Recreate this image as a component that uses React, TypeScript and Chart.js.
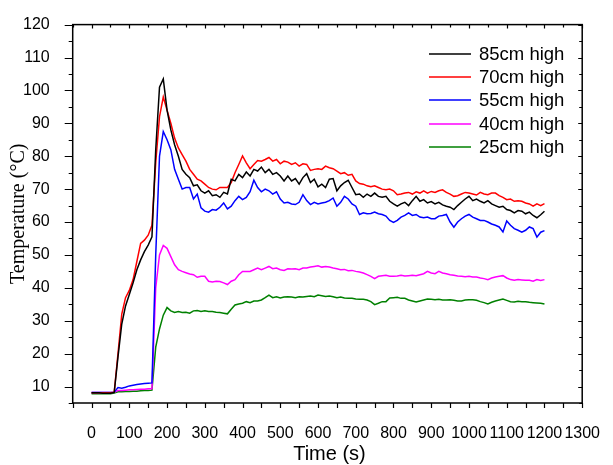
import React, { useEffect, useRef } from "react";
import { Chart, registerables } from "chart.js";

Chart.register(...registerables);

const TIME_STEP = 10;
const TIMES = Array.from({ length: 121 }, (_, i) => i * TIME_STEP);

const SERIES_LABELS = ["85cm high", "70cm high", "55cm high", "40cm high", "25cm high"];
const SERIES_COLORS = ["#000000", "#ff0000", "#0000ff", "#ff00ff", "#008000"];

const H85 = [
  8.1, 8.1, 8.1, 8.0, 8.0, 8.0,
  8.2, 19, 29, 34.5, 38, 41.5, 45.5, 48.5, 51, 53, 55.5,
  82, 101, 103.5, 94, 88, 83.5, 80, 76, 74.5, 73.5,
  71, 71.3, 69.5, 68.8, 69.5, 68, 68.3, 67.5, 69, 68.5,
  73, 72.5, 74.5, 73.5, 75.2, 74, 76, 75.5, 76.7, 75,
  76, 74.5, 75, 74, 72.5, 74, 72.5, 73.2, 71.5, 73.5,
  74.7, 72, 73, 70.7, 71.5, 70.5, 73, 73.2, 69.5, 71,
  72, 72.7, 70.5, 68.3, 68.5, 67.5, 68.5, 67.8, 68.8, 67.8,
  67.5, 67.8, 66.3, 65.5, 64.8, 65.5, 66, 65, 66.5, 67.8,
  66.3, 66.8, 65.8, 66.2, 65.5, 66, 65.2, 64.8, 64.5, 63.8,
  65, 66, 67, 67.8, 66.5, 67, 66.3, 65.8, 66.5, 65.5,
  65, 64.5, 64.8, 63.8, 63.5, 62.8, 63.5, 63.3, 62.5, 63,
  62, 61.3, 62.2, 63.3,
];

const H70 = [
  8.1, 8.1, 8.1, 8.1, 8.1, 8.1,
  8.3, 20, 32, 37, 39.2, 42.5, 48, 53.5, 54.5, 56, 59,
  78, 92, 98, 94, 90, 85.5, 82.5, 80.5, 78.5, 76,
  74.5, 73, 72.5, 71.5, 70.5, 70, 69.8, 70.5, 70.5, 70.5,
  72, 75, 77.5, 80.1, 78, 76.2, 77.5, 78.7, 78.5, 79,
  79.6, 78.5, 79, 77.7, 78.5, 78.2, 77.5, 78, 77, 77.7,
  77.5, 75.7, 76, 76.2, 76, 77, 76.5, 76.2, 75.5, 74.7,
  75, 74.2, 74.5, 72.5, 71.7, 71.5, 71, 70.7, 71, 70.5,
  70, 69.8, 70, 69.5, 68.3, 68.5, 68.8, 69, 68.5, 69.2,
  68.8, 69.5, 68.8, 69.3, 69, 69.5, 69.8, 69, 68.5, 67.8,
  68, 68.5, 69, 68.8, 68.5, 68.2, 69, 68.5, 68.3, 68.8,
  68.8, 68, 67.5, 66.8, 67, 66.3, 66.5, 66.3, 65.8, 65.5,
  64.8, 65.5, 65, 65.6,
];

const H55 = [
  8.2, 8.2, 8.2, 8.2, 8.2, 8.2,
  8.3, 9.7, 9.5, 9.8, 10.2, 10.4, 10.6, 10.8, 10.9, 11, 11.1,
  50, 80, 87.5, 85, 82, 76, 73, 70, 70.5, 70.5,
  67, 68.5, 64.3, 63.3, 63, 63.8, 63.6, 64.5, 65.8, 64,
  64.8, 66.5, 67.8, 66.8, 67.5, 69.2, 72.7, 70.5, 69.2, 70,
  69.5, 68.5, 69.2, 67, 65.8, 66, 65.5, 65.3, 66, 68.3,
  66.5, 65.3, 66, 65.5, 65.8, 66, 66.5, 67.3, 64.8, 66,
  67.8, 67, 65.5, 64.8, 62.3, 62.8, 62.5, 62.6, 63, 62.5,
  62.3, 61.8, 60.5, 59.9, 60.5, 61.5, 62, 62.8, 62, 62.3,
  61.5, 61.3, 61.5, 61, 61, 61.8, 62, 62.3, 60, 58.4,
  60, 61, 61.8, 62.3, 61.5, 61, 60.5, 60.5, 60, 59.4,
  59, 58.5, 57, 60.3, 59, 58, 57.5, 56.9, 57.5, 58.5,
  58, 55.4, 56.9, 57.4,
];

const H40 = [
  8.2, 8.2, 8.2, 8.2, 8.2, 8.2,
  8.3, 8.8, 8.8, 8.9, 9.0, 9.0, 9.1, 9.2, 9.2, 9.3, 9.3,
  40, 50, 52.9, 52, 49.5, 47, 45.5, 45, 44.6, 44.2,
  44, 43.2, 43.5, 43.5, 42, 41.8, 42, 41.9, 41.5, 41,
  42, 42.5, 44, 45, 45, 45, 45.5, 46, 45.5, 46,
  46.5, 45.8, 46, 45.5, 45.3, 45.8, 45.7, 45.8, 45.5, 46,
  46, 46.3, 46.5, 46.7, 46.3, 46.5, 46.3, 46, 45.8, 45.5,
  45.6, 45.2, 45.3, 45, 44.8, 44.5, 44, 43.5, 42.8, 43.5,
  43.7, 43.8, 43.5, 43.5, 43.6, 43.8, 43.6, 43.7, 43.8, 43.7,
  44, 44.3, 45, 44.5, 44.3, 45, 44.5, 44.3, 44, 43.8,
  43.6, 43.5, 43.4, 43.5, 43.3, 43.3, 43, 42.8, 42.5, 43,
  43.3, 43.5, 43.7, 43, 42.5, 42.3, 42.5, 42.4, 42.3, 42.3,
  42, 42.5, 42.2, 42.5,
];

const H25 = [
  7.8, 7.8, 7.8, 7.8, 7.8, 7.8,
  8.0, 8.4, 8.4, 8.5, 8.5, 8.6, 8.6, 8.7, 8.8, 8.8, 8.9,
  22, 27.5, 31.7, 34, 33, 32.5, 32.8, 32.5, 32.6, 32.3,
  33, 33.1, 32.8, 33, 32.8, 32.8, 32.6, 32.5, 32.3, 32.1,
  33.5, 34.8, 35.1, 35.3, 35.8, 35.5, 36, 36, 36.3, 37,
  37.8, 37, 37.3, 36.9, 37.2, 37.3, 37.2, 37, 37.3, 37.2,
  37.4, 37.5, 37.3, 37.8, 37.6, 37.4, 37.5, 37.3, 37, 37.2,
  36.9, 36.8, 36.8, 36.6, 36.5, 36.5, 36.3, 35.8, 34.9, 35.3,
  35.8, 35.8, 36.9, 37, 37.1, 36.8, 36.8, 36.3, 36, 35.7,
  36, 36.3, 36.6, 36.5, 36.4, 36.5, 36.3, 36.3, 36.4, 36.2,
  36, 36, 36.3, 36.4, 36.4, 36.2, 35.8, 35.5, 35.1, 35.6,
  36, 36.3, 36.6, 36.2, 35.8, 35.7, 35.9, 35.8, 35.8, 35.6,
  35.5, 35.4, 35.3, 35.1,
];

const SERIES = [H85, H70, H55, H40, H25];

const X_MIN = -50;
const X_MAX = 1300;
const X_TICKS = [0, 100, 200, 300, 400, 500, 600, 700, 800, 900, 1000, 1100, 1200, 1300];
const X_MINOR_STEP = 50;
const Y_MIN = 5;
const Y_MAX = 120;
const Y_TICKS = [10, 20, 30, 40, 50, 60, 70, 80, 90, 100, 110, 120];
const Y_MINOR_STEP = 5;

const X_TITLE = "Time (s)";
const Y_TITLE = "Temperature (°C)";

const SANS = "'Liberation Sans', Arial, sans-serif";
const SERIF = "'Liberation Serif', 'Times New Roman', serif";

const framePlugin = {
  id: "frameAndLegend",
  afterDraw(chart: any) {
    const ctx = chart.ctx as CanvasRenderingContext2D;
    const { left, right, top, bottom } = chart.chartArea;
    const xs = chart.scales.x;
    const ys = chart.scales.y;
    ctx.save();
    ctx.strokeStyle = "#000";
    ctx.lineWidth = 1.5;
    ctx.strokeRect(left, top, right - left, bottom - top);

    ctx.lineWidth = 1.2;
    ctx.beginPath();
    for (let v = X_MIN; v <= X_MAX; v += X_MINOR_STEP) {
      const px = Math.round(xs.getPixelForValue(v)) + 0.5;
      const major = v % 100 === 0;
      ctx.moveTo(px, bottom);
      ctx.lineTo(px, bottom + 5);
      ctx.moveTo(px, top);
      ctx.lineTo(px, top + (major ? 4 : 3));
    }
    for (let v = Y_MIN; v <= Y_MAX; v += Y_MINOR_STEP) {
      const py = Math.round(ys.getPixelForValue(v)) + 0.5;
      const major = v % 10 === 0;
      ctx.moveTo(left, py);
      ctx.lineTo(left - (major ? 8 : 4), py);
      ctx.moveTo(right, py);
      ctx.lineTo(right - (major ? 4 : 3), py);
    }
    ctx.stroke();

    // axis titles
    ctx.fillStyle = "#000";
    ctx.textAlign = "center";
    ctx.textBaseline = "middle";
    ctx.font = `20px ${SANS}`;
    ctx.fillText(X_TITLE, (left + right) / 2 + 2, 454);
    ctx.save();
    ctx.translate(19, (top + bottom) / 2);
    ctx.rotate(-Math.PI / 2);
    ctx.font = `20px ${SERIF}`;
    ctx.fillText(Y_TITLE, 0, 0);
    ctx.restore();

    // legend
    const rowY = [54, 77, 100, 124, 147];
    ctx.textAlign = "left";
    ctx.font = `18.5px ${SANS}`;
    SERIES_LABELS.forEach((label, i) => {
      const y = rowY[i];
      ctx.strokeStyle = SERIES_COLORS[i];
      ctx.lineWidth = 1.5;
      ctx.beginPath();
      ctx.moveTo(429, y);
      ctx.lineTo(471, y);
      ctx.stroke();
      ctx.fillStyle = "#000";
      ctx.fillText(label, 479, y + 1);
    });
    ctx.restore();
  },
};

export default function App() {
  const ref = useRef<HTMLCanvasElement | null>(null);
  useEffect(() => {
    if (!ref.current) return;
    const chart = new Chart(ref.current, {
      type: "line",
      data: {
        datasets: SERIES.map((vals, i) => ({
          label: SERIES_LABELS[i],
          data: vals.map((v, j) => ({ x: TIMES[j], y: v })),
          borderColor: SERIES_COLORS[i],
          backgroundColor: SERIES_COLORS[i],
          borderWidth: 1.5,
          pointRadius: 0,
          tension: 0,
          fill: false,
        })),
      },
      options: {
        responsive: false,
        animation: false,
        devicePixelRatio: 1,
        layout: { padding: { left: 0, top: 16, right: 18, bottom: 0 } },
        plugins: { legend: { display: false }, tooltip: { enabled: false } },
        scales: {
          x: {
            type: "linear",
            min: X_MIN,
            max: X_MAX,
            grid: { display: false },
            border: { display: false },
            afterBuildTicks: (axis: any) => {
              axis.ticks = X_TICKS.map((v) => ({ value: v }));
            },
            afterFit: (axis: any) => {
              axis.height = 62;
            },
            ticks: {
              autoSkip: false,
              maxRotation: 0,
              padding: 13,
              color: "#000",
              font: { family: SANS, size: 16 },
              callback: (v: any) => String(v),
            },
          },
          y: {
            type: "linear",
            min: Y_MIN,
            max: Y_MAX,
            grid: { display: false },
            border: { display: false },
            afterBuildTicks: (axis: any) => {
              axis.ticks = Y_TICKS.map((v) => ({ value: v }));
            },
            afterFit: (axis: any) => {
              axis.width = 72.7;
            },
            ticks: {
              autoSkip: false,
              padding: 15,
              color: "#000",
              font: { family: SANS, size: 16 },
              callback: (v: any) => String(v),
            },
          },
        },
      },
      plugins: [framePlugin],
    });
    return () => chart.destroy();
  }, []);
  return (
    <div style={{ position: "fixed", left: 0, top: 0, width: 613, height: 465, background: "#fff" }}>
      <canvas ref={ref} width={613} height={465} style={{ width: 613, height: 465 }} />
    </div>
  );
}
